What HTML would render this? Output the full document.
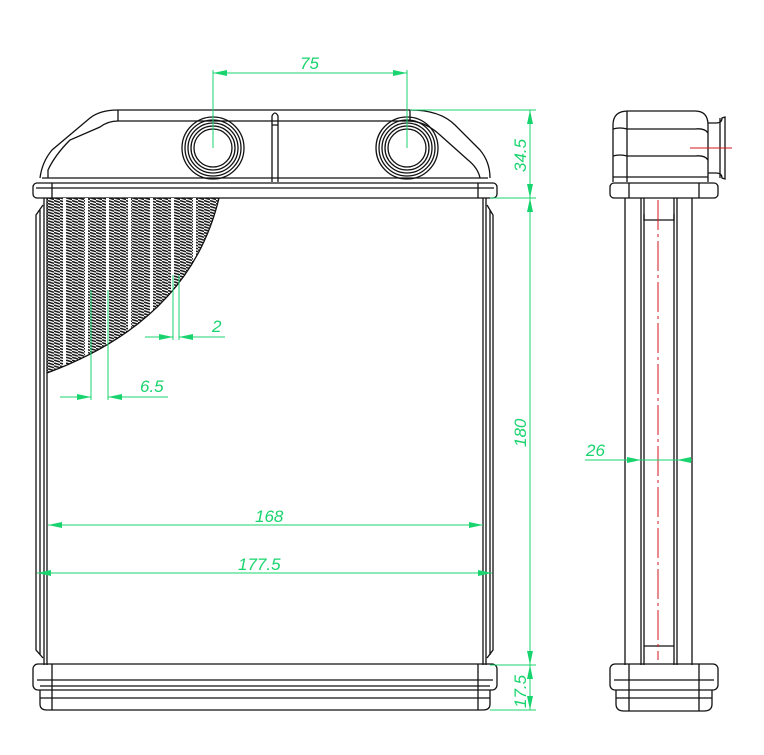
<!DOCTYPE html>
<html><head><meta charset="utf-8"><style>html,body{margin:0;padding:0;background:#fff}svg{display:block}</style></head>
<body>
<svg width="764" height="755" viewBox="0 0 764 755" xmlns="http://www.w3.org/2000/svg" font-family="Liberation Sans, sans-serif">
<defs>
<pattern id="fin" width="6" height="2.9" patternUnits="userSpaceOnUse">
<path d="M0 0.5 L6 2.3" stroke="#111" stroke-width="1.5"/>
</pattern>
<clipPath id="fc"><path d="M47 198 L219 198 Q190 320 47 373 Z"/></clipPath>
<marker id="a" markerWidth="14" markerHeight="6" refX="14" refY="3" orient="auto" markerUnits="userSpaceOnUse"><path d="M0 0 L14 3 L0 6 Z" fill="#19d46e"/></marker>
</defs>
<g fill="none" stroke="#111" stroke-width="1.3">
<path d="M40 178 Q42 162 52 150 L90 118 Q100 110 118 110 L410 110 Q440 110 455 125 L480 150 Q490 162 490 178"/>
<path d="M48 178 L48 170 Q55 155 70 140 L100 127 Q108 121 118 121 L408 121 Q425 121 440 135 L468 160 Q478 168 480 178"/>
<path d="M118 110 L118 121 M410 110 L410 121"/>
<path d="M272 182 L272 116 Q275 110 278 116 L278 182 M272 125 L278 125"/>
<path d="M42 178 L488 178"/>
<rect x="33" y="183" width="464" height="15" rx="4"/>
<path d="M52 183 L52 198 M478 183 L478 198 M36 188 L494 188"/>
<circle cx="213" cy="148" r="31"/><circle cx="213" cy="148" r="28"/><circle cx="213" cy="148" r="25"/><circle cx="213" cy="148" r="22"/><circle cx="213" cy="148" r="19"/>
<circle cx="407" cy="148" r="31"/><circle cx="407" cy="148" r="28"/><circle cx="407" cy="148" r="25"/><circle cx="407" cy="148" r="22"/><circle cx="407" cy="148" r="19"/>
<path d="M44 198 L44 665 M47 198 L47 665 M483 198 L483 665 M486 198 L486 665"/>
<path d="M43 205 L36 215 L36 650 L43 658 M40 210 L40 655"/>
<path d="M487 205 L493 215 L493 650 L487 658 M490 210 L490 655"/>
<rect x="33" y="664" width="464" height="26" rx="5"/>
<path d="M37 680 L493 680 M40 686 L490 686"/>
<path d="M40 690 L40 704 Q40 710 47 710 L483 710 Q490 710 490 704 L490 690 M40 698 L490 698"/>
<path d="M52 664 L52 710 M478 664 L478 710"/>
</g>
<g clip-path="url(#fc)">
<rect x="47" y="198" width="175" height="180" fill="url(#fin)"/>
<g fill="#fff"><rect x="63" y="198" width="3" height="180"/><rect x="85" y="198" width="3" height="180"/><rect x="106" y="198" width="3" height="180"/><rect x="128" y="198" width="3" height="180"/><rect x="150" y="198" width="3" height="180"/><rect x="171" y="198" width="3" height="180"/><rect x="193" y="198" width="3" height="180"/></g>
</g>
<path d="M219 198 Q190 320 47 373" fill="none" stroke="#111" stroke-width="1.3"/>
<g fill="none" stroke="#111" stroke-width="1.3">
<path d="M613 182 L613 125 Q613 111 628 111 L695 111 Q708 111 708 125 L708 182"/>
<path d="M627 111 L627 182 M613 129 Q620 127 627 129 L695 129 Q705 128 708 133 M613 156 Q620 154 627 156 L695 156 Q705 155 708 160 M613 177 L708 177"/>
<path d="M708 123 L716 123 Q722 123 722 118 L725 117 L725 179 L722 178 Q722 173 716 173 L708 173 M720 118 L720 178"/>
<rect x="610" y="183" width="108" height="15" rx="4"/>
<path d="M629 183 L629 198 M699 183 L699 198"/>
<path d="M625 198 L625 665 M692 198 L692 665 M641 198 L641 665 M644 198 L644 665 M674 198 L674 665 M677 198 L677 665"/>
<path d="M644 214 L644 220 L674 220 L674 214 M644 646 L674 646"/>
<rect x="610" y="664" width="108" height="26" rx="5"/>
<path d="M614 680 L714 680"/>
<path d="M616 690 L616 704 Q616 711 624 711 L704 711 Q712 711 712 704 L712 690 M616 698 L712 698 M629 664 L629 711 M699 664 L699 711"/>
</g>
<g stroke="#d2141e" stroke-width="1" fill="none">
<path d="M658 200 L658 660" stroke-dasharray="30 4 3 4"/>
<path d="M690 148 L732 148"/>
</g>
<g stroke="#19d46e" stroke-width="1" fill="none">
<path d="M213 70 L213 148 M407 70 L407 148"/>
<path d="M213 73 L407 73" marker-end="url(#a)"/><path d="M407 73 L213 73" marker-end="url(#a)"/>
<path d="M410 110 L536 110 M490 198 L536 198 M490 665 L536 665 M490 710 L536 710"/>
<path d="M530 155 L530 110" marker-end="url(#a)"/><path d="M530 155 L530 198" marker-end="url(#a)"/>
<path d="M530 430 L530 198" marker-end="url(#a)"/><path d="M530 430 L530 665" marker-end="url(#a)"/>
<path d="M530 687 L530 665" marker-end="url(#a)"/><path d="M530 687 L530 710" marker-end="url(#a)"/>
<path d="M48 525 L483 525" marker-end="url(#a)"/><path d="M483 525 L48 525" marker-end="url(#a)"/>
<path d="M37 573 L492 573" marker-end="url(#a)"/><path d="M492 573 L37 573" marker-end="url(#a)"/>
<path d="M173 275 L173 340 M179 275 L179 340"/>
<path d="M145 337 L173 337" marker-end="url(#a)"/><path d="M225 337 L179 337" marker-end="url(#a)"/>
<path d="M91 290 L91 400 M108 290 L108 400"/>
<path d="M60 397 L91 397" marker-end="url(#a)"/><path d="M168 397 L108 397" marker-end="url(#a)"/>
<path d="M585 460 L641 460" marker-end="url(#a)"/><path d="M692 460 L677 460" marker-end="url(#a)"/><path d="M641 460 L677 460"/>
</g>
<g fill="#19d46e" font-size="17" font-style="italic">
<text x="300" y="69">75</text>
<text x="255" y="522">168</text>
<text x="238" y="570">177.5</text>
<text x="212" y="332">2</text>
<text x="140" y="392">6.5</text>
<text x="586" y="456">26</text>
<text transform="translate(526,172) rotate(-90)">34.5</text>
<text transform="translate(526,447) rotate(-90)">180</text>
<text transform="translate(526,708) rotate(-90)">17.5</text>
</g>
</svg>
</body></html>
